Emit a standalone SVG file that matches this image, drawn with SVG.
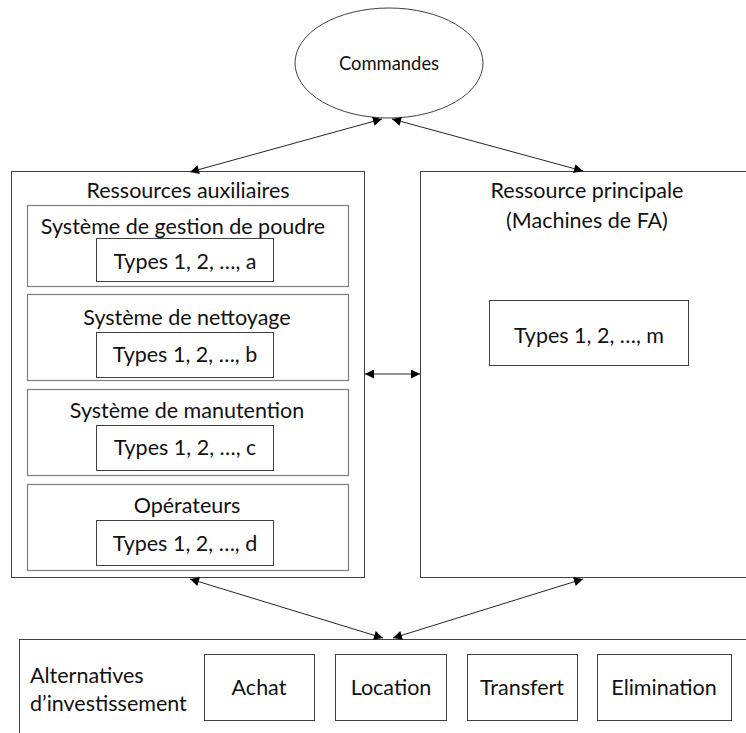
<svg xmlns="http://www.w3.org/2000/svg" width="746" height="733" viewBox="0 0 746 733">
<style>
text{font-family:Lato,"Liberation Sans",sans-serif;fill:#111;text-anchor:middle;dominant-baseline:central}
.t{font-size:21.5px}
.s{font-size:18.4px}
.outer{fill:#fff;stroke:#404040;stroke-width:1}
.sub{fill:#fff;stroke:#7f7f7f;stroke-width:1.2}
.inner{fill:#fff;stroke:#404040;stroke-width:1}
.conn{stroke:#262626;stroke-width:1;fill:none;marker-start:url(#ah);marker-end:url(#ah)}
</style>
<defs>
<marker id="ah" viewBox="0 0 10 10" refX="10" refY="5" markerWidth="10" markerHeight="9" markerUnits="userSpaceOnUse" orient="auto-start-reverse">
<path d="M0,0 L10,5 L0,10 z" fill="#000"/>
</marker>
</defs>
<g id="commandes">
<ellipse cx="389" cy="63" rx="94" ry="55" fill="#fff" stroke="#404040"/>
<text x="389" y="63" class="s">Commandes</text>
</g>
<g id="ressources-auxiliaires">
<rect class="outer" x="11.5" y="171.5" width="353" height="406"/>
<text x="188" y="190" class="t">Ressources auxiliaires</text>
</g>
<g id="gestion-poudre">
<rect class="sub" x="27.5" y="205.5" width="321" height="81"/>
<text x="183" y="226" class="t">Système de gestion de poudre</text>
<rect class="inner" x="96.5" y="238.5" width="177" height="43"/>
<text x="185" y="261" class="t">Types 1, 2, …, a</text>
</g>
<g id="nettoyage">
<rect class="sub" x="27.5" y="294.5" width="321" height="86"/>
<text x="187" y="317" class="t">Système de nettoyage</text>
<rect class="inner" x="96.5" y="332.5" width="177" height="45"/>
<text x="185" y="354" class="t">Types 1, 2, …, b</text>
</g>
<g id="manutention">
<rect class="sub" x="27.5" y="389.5" width="321" height="86"/>
<text x="187" y="410" class="t">Système de manutention</text>
<rect class="inner" x="96.5" y="425.5" width="177" height="45"/>
<text x="185" y="447" class="t">Types 1, 2, …, c</text>
</g>
<g id="operateurs">
<rect class="sub" x="27.5" y="484.5" width="321" height="86"/>
<text x="187" y="505" class="t">Opérateurs</text>
<rect class="inner" x="96.5" y="520.5" width="177" height="45"/>
<text x="185" y="543" class="t">Types 1, 2, …, d</text>
</g>
<g id="ressource-principale">
<rect class="outer" x="420.5" y="171.5" width="330" height="406"/>
<text x="587" y="190" class="t">Ressource principale</text>
<text x="587" y="220" class="t">(Machines de FA)</text>
<rect class="inner" x="489.5" y="300.5" width="199" height="65"/>
<text x="589" y="335" class="t">Types 1, 2, …, m</text>
</g>
<g id="alternatives">
<rect class="outer" x="19.5" y="639.5" width="740" height="110"/>
<text x="30" y="675" class="t" style="text-anchor:start">Alternatives</text>
<text x="30" y="703" class="t" style="text-anchor:start">d’investissement</text>
</g>
<g id="achat">
<rect class="inner" x="204.5" y="654.5" width="110" height="66"/>
<text x="259" y="687" class="t">Achat</text>
</g>
<g id="location">
<rect class="inner" x="335.5" y="654.5" width="111" height="66"/>
<text x="391" y="687" class="t">Location</text>
</g>
<g id="transfert">
<rect class="inner" x="467.5" y="654.5" width="110" height="66"/>
<text x="522" y="687" class="t">Transfert</text>
</g>
<g id="elimination">
<rect class="inner" x="597.5" y="654.5" width="134" height="66"/>
<text x="664" y="687" class="t">Elimination</text>
</g>
<g id="connectors">
<line class="conn" x1="190" y1="172" x2="382" y2="119"/>
<line class="conn" x1="392" y1="119" x2="583" y2="171"/>
<line class="conn" x1="365" y1="374" x2="420" y2="374"/>
<line class="conn" x1="190" y1="579" x2="383" y2="638"/>
<line class="conn" x1="393" y1="638" x2="583" y2="579"/>
</g>
</svg>
